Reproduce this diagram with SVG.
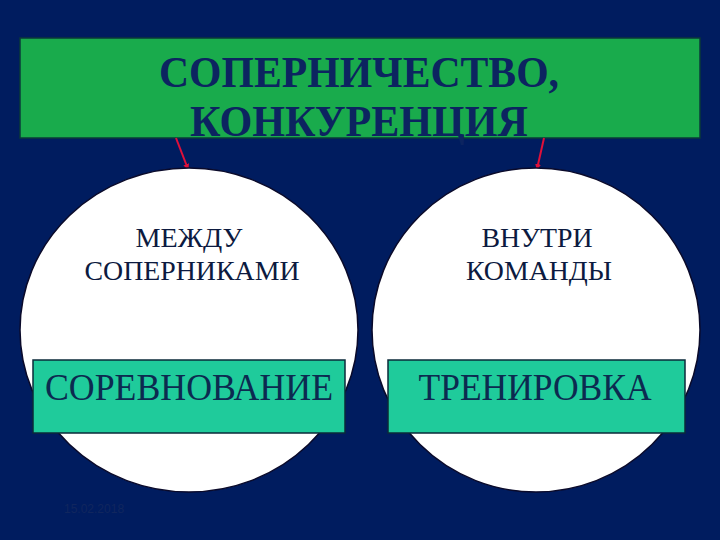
<svg xmlns="http://www.w3.org/2000/svg" width="720" height="540" viewBox="0 0 720 540">
<defs>
<style>
.bg{fill:#001c5f}
.circle{fill:#ffffff;stroke:#0a0a2a;stroke-width:1.5}
.box{fill:#1fcb9b;stroke:#0b2a3a;stroke-width:1.5}
.title{font-family:"Liberation Serif",serif;font-weight:bold;font-size:44px;fill:#0c2460;text-anchor:middle}
.lbl{font-family:"Liberation Serif",serif;font-size:28px;fill:#0c1a40;text-anchor:middle}
.big{font-family:"Liberation Serif",serif;font-size:38px;fill:#0c2a50;text-anchor:middle}
.conn{stroke:#e0103a;stroke-width:2;fill:none}
</style>
<marker id="ah" markerWidth="6" markerHeight="6" refX="5" refY="3" orient="auto" markerUnits="userSpaceOnUse">
<path d="M0,0 L6,3 L0,6 z" fill="#e0103a"/>
</marker>
</defs>
<rect class="bg" x="0" y="0" width="720" height="540"/>
<g id="title">
<rect x="20" y="38" width="680" height="100" fill="#19ab4c" stroke="#0a3a3a" stroke-width="1.5"/>
<text class="title" x="359" y="87" textLength="400" lengthAdjust="spacingAndGlyphs">СОПЕРНИЧЕСТВО,</text>
<text class="title" x="359" y="136" textLength="338" lengthAdjust="spacingAndGlyphs">КОНКУРЕНЦИЯ</text>
</g>
<g id="connectors">
<line class="conn" x1="176" y1="138" x2="188" y2="169" marker-end="url(#ah)"/>
<line class="conn" x1="544" y1="138" x2="537" y2="169" marker-end="url(#ah)"/>
</g>
<g id="left">
<ellipse class="circle" cx="189" cy="330" rx="169" ry="162"/>
<text class="lbl" x="189" y="247" textLength="107" lengthAdjust="spacingAndGlyphs">МЕЖДУ</text>
<text class="lbl" x="192" y="280" textLength="215" lengthAdjust="spacingAndGlyphs">СОПЕРНИКАМИ</text>
</g>
<g id="right">
<ellipse class="circle" cx="536" cy="330" rx="164" ry="162"/>
<text class="lbl" x="537" y="247" textLength="111" lengthAdjust="spacingAndGlyphs">ВНУТРИ</text>
<text class="lbl" x="539" y="280" textLength="146" lengthAdjust="spacingAndGlyphs">КОМАНДЫ</text>
</g>
<g id="left-box">
<rect class="box" x="33" y="360" width="312" height="73"/>
<text class="big" x="189" y="400" textLength="288" lengthAdjust="spacingAndGlyphs">СОРЕВНОВАНИЕ</text>
</g>
<g id="right-box">
<rect class="box" x="388" y="360" width="297" height="73"/>
<text class="big" x="535" y="400" textLength="233" lengthAdjust="spacingAndGlyphs">ТРЕНИРОВКА</text>
</g>
<text x="64" y="513" font-family="Liberation Sans, sans-serif" font-size="12" fill="#10265e">15.02.2018</text>
</svg>
